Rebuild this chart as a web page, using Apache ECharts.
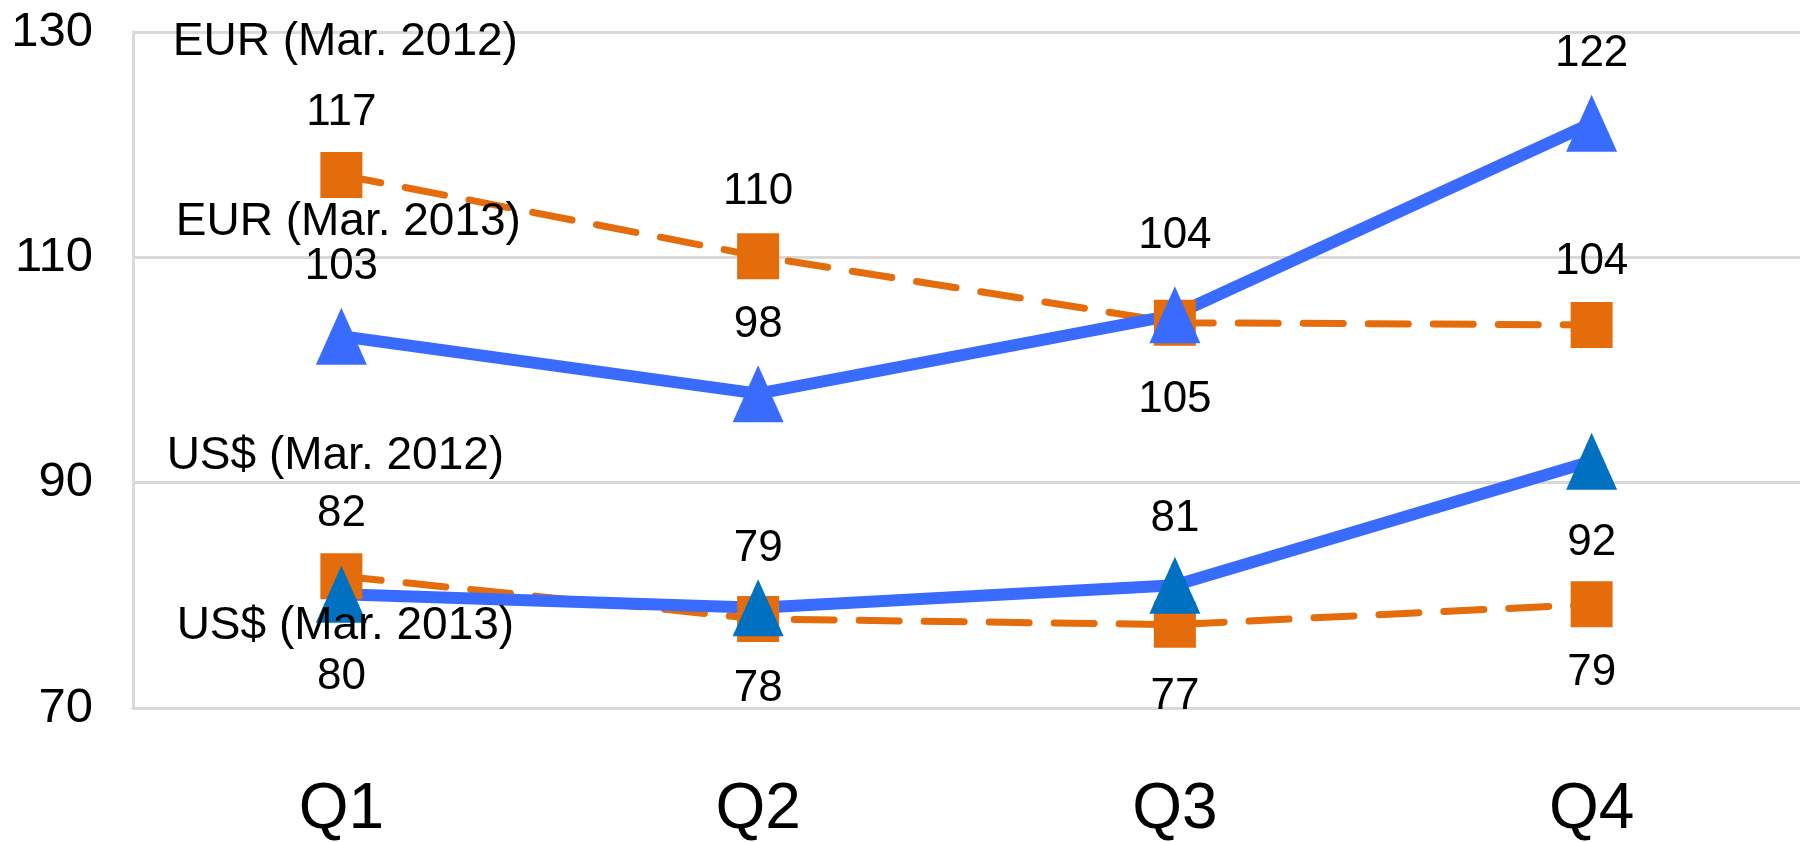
<!DOCTYPE html>
<html lang="en">
<head>
    <meta charset="utf-8"/>
    <title>EUR / US$</title>
    <script src="https://cdn.jsdelivr.net/npm/echarts@6/dist/echarts.min.js"></script>
    <style>
        html, body { margin: 0; padding: 0; background: #fff; }
        #chart { width: 1800px; height: 842px; }
    </style>
</head>
<body>
<div id="chart"></div>
<script type="text/javascript">
    // data (labels show the rounded value)
    var quarters = ['Q1', 'Q2', 'Q3', 'Q4'];
    var eur2012 = [117.3, 110.1, 104.2, 104.0];
    var eur2013 = [103.0, 97.9, 104.9, 121.9];
    var usd2012 = [81.7, 77.9, 77.4, 79.2];
    var usd2013 = [80.1, 78.9, 80.9, 91.9];
    var yTicks = [70, 90, 110, 130];

    // label offsets from each point, in px (style only)
    var eur2012Dy = [-62, -64, -87, -63];
    var eur2013Dy = [-69, -69, 85, -69];
    var usd2012Dy = [-62, 70, 72, 69];
    var usd2013Dy = [83, -59, -66, 82];

    var FONT = '"Liberation Sans", Arial, sans-serif';
    var ORANGE = '#E46C0A';
    var BLUE = '#3A6BFF';
    var DARKBLUE = '#0070C0';

    function points(values, dy) {
        return values.map(function (v, i) {
            return { value: v, label: { offset: [0, dy[i]] } };
        });
    }

    // series name written next to the Q1 point
    function nameMark(name, value, dx, dy) {
        return {
            symbol: 'rect',
            symbolSize: 1,
            itemStyle: { color: 'rgba(0,0,0,0)' },
            label: {
                show: true,
                formatter: name,
                offset: [dx, dy],
                color: '#000',
                fontFamily: FONT,
                fontSize: 46
            },
            data: [{ coord: [0, value] }]
        };
    }

    var valueLabel = {
        show: true,
        position: 'inside',
        color: '#000',
        fontFamily: FONT,
        fontSize: 44,
        formatter: function (p) { return Math.round(p.value); }
    };

    var chart = echarts.init(document.getElementById('chart'));

    var option = {
        animation: false,
        grid: { left: 133, right: -10, top: 32, bottom: 126 },
        xAxis: {
            type: 'category',
            data: quarters,
            axisLine: { lineStyle: { color: '#D9D9D9', width: 3 } },
            axisTick: { show: false },
            axisLabel: { color: '#000', fontFamily: FONT, fontSize: 64, margin: 70 }
        },
        yAxis: {
            type: 'value',
            min: yTicks[0],
            max: yTicks[yTicks.length - 1],
            interval: 20,
            axisLine: { show: true, lineStyle: { color: '#D9D9D9', width: 3 } },
            axisTick: { show: false },
            axisLabel: { color: '#000', fontFamily: FONT, fontSize: 49, margin: 40 },
            splitLine: { lineStyle: { color: '#D9D9D9', width: 3 } }
        },
        series: [
            {
                name: 'EUR (Mar. 2012)',
                type: 'line',
                data: points(eur2012, eur2012Dy),
                symbol: 'rect',
                symbolSize: [42, 46],
                itemStyle: { color: ORANGE },
                lineStyle: { color: ORANGE, width: 7, type: [40, 25], cap: 'round' },
                label: valueLabel,
                markPoint: nameMark('EUR (Mar. 2012)', eur2012[0], 4, -133)
            },
            {
                name: 'US$ (Mar. 2012)',
                type: 'line',
                data: points(usd2012, usd2012Dy),
                symbol: 'rect',
                symbolSize: [42, 46],
                itemStyle: { color: ORANGE },
                lineStyle: { color: ORANGE, width: 7, type: [40, 25], cap: 'round' },
                label: valueLabel,
                markPoint: nameMark('US$ (Mar. 2012)', usd2012[0], -6, -120)
            },
            {
                name: 'EUR (Mar. 2013)',
                type: 'line',
                data: points(eur2013, eur2013Dy),
                symbol: 'triangle',
                symbolSize: [51, 57],
                itemStyle: { color: BLUE },
                lineStyle: { color: BLUE, width: 12 },
                label: valueLabel,
                markPoint: nameMark('EUR (Mar. 2013)', eur2013[0], 7, -114)
            },
            {
                name: 'US$ (Mar. 2013)',
                type: 'line',
                data: points(usd2013, usd2013Dy),
                symbol: 'triangle',
                symbolSize: [51, 57],
                itemStyle: { color: DARKBLUE },
                lineStyle: { color: BLUE, width: 12 },
                label: valueLabel,
                markPoint: nameMark('US$ (Mar. 2013)', usd2013[0], 4, 32)
            }
        ]
    };

    chart.setOption(option);
</script>
</body>
</html>
